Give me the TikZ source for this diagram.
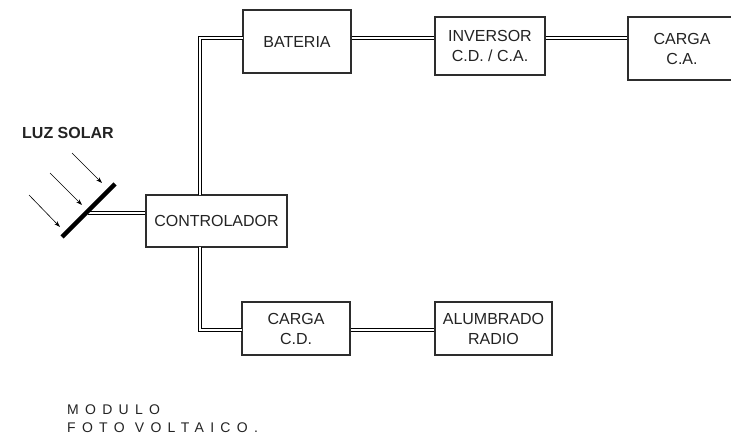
\documentclass[tikz,border=0pt]{standalone}
\usepackage{fontspec}
\setmainfont{Liberation Sans}
\usetikzlibrary{arrows.meta}
\definecolor{boxgray}{RGB}{45,45,45}
\definecolor{txtgray}{RGB}{35,35,35}
\begin{document}
\begin{tikzpicture}[x=1pt,y=-1pt,
  blk/.style={draw=boxgray, line width=1.8pt, fill=white, inner sep=0pt, align=center,
    font=\fontsize{16}{20}\selectfont, text=txtgray},
  wireout/.style={draw=black, line width=3.4pt},
  wirein/.style={draw=white, line width=1.4pt},
  ray/.style={draw=black, line width=0.6pt, -{Stealth[length=6pt,width=4pt]}},
  panel/.style={draw=black, line width=4.5pt}]
\useasboundingbox (0,0) rectangle (731,441);
\node[blk, minimum width=108pt, minimum height=63pt] (bat) at (297,41.5) {BATERIA};
\node[blk, minimum width=110pt, minimum height=58pt] (inv) at (490,46) {INVERSOR\\C.D. / C.A.};
\node[blk, minimum width=108pt, minimum height=63pt] (cca) at (682,48.5) {CARGA\\C.A.};
\node[blk, minimum width=141pt, minimum height=52pt] (ctrl) at (216.5,221) {CONTROLADOR};
\node[blk, minimum width=108pt, minimum height=53pt] (ccd) at (296,328.5) {CARGA\\C.D.};
\node[blk, minimum width=117pt, minimum height=53pt] (alum) at (493.5,328.5) {ALUMBRADO\\RADIO};
% connectors
\coordinate (pm) at (88,213);
\coordinate (ctop) at (200,195);
\coordinate (cbot) at (200,247);
\coordinate (bw) at (243,38);
\coordinate (cdw) at (242,330);
\draw[wireout] (ctop) |- (bw);
\draw[wireout] (bw -| bat.east) -- (bw -| inv.west);
\draw[wireout] (bw -| inv.east) -- (bw -| cca.west);
\draw[wireout] (cbot) |- (cdw);
\draw[wireout] (cdw -| ccd.east) -- (cdw -| alum.west);
\draw[wireout] (pm) -- (pm -| ctrl.west);
\draw[wirein] (ctop) |- (bw);
\draw[wirein] (bw -| bat.east) -- (bw -| inv.west);
\draw[wirein] (bw -| inv.east) -- (bw -| cca.west);
\draw[wirein] (cbot) |- (cdw);
\draw[wirein] (cdw -| ccd.east) -- (cdw -| alum.west);
\draw[wirein] (pm) -- (pm -| ctrl.west);
% panel
\coordinate (pa) at (62,237);
\coordinate (pb) at (115,184);
\draw[panel] (pa) -- (pb);
% rays
\coordinate (r1a) at (72,153); \coordinate (r1b) at (102,183);
\coordinate (r2a) at (50,173); \coordinate (r2b) at (82,205);
\coordinate (r3a) at (29,195); \coordinate (r3b) at (60,227);
\draw[ray] (r1a) -- (r1b);
\draw[ray] (r2a) -- (r2b);
\draw[ray] (r3a) -- (r3b);
\node[font=\fontsize{16}{20}\selectfont\bfseries, text=txtgray, anchor=west, inner sep=0pt] (luz) at (22,133) {LUZ SOLAR};
\node[font=\fontsize{14}{18}\selectfont\addfontfeature{LetterSpace=45}, text=txtgray, anchor=north west, align=left, inner sep=0pt] (mod) at (67,405) {MODULO\\FOTO VOLTAICO.};
\end{tikzpicture}
\end{document}
